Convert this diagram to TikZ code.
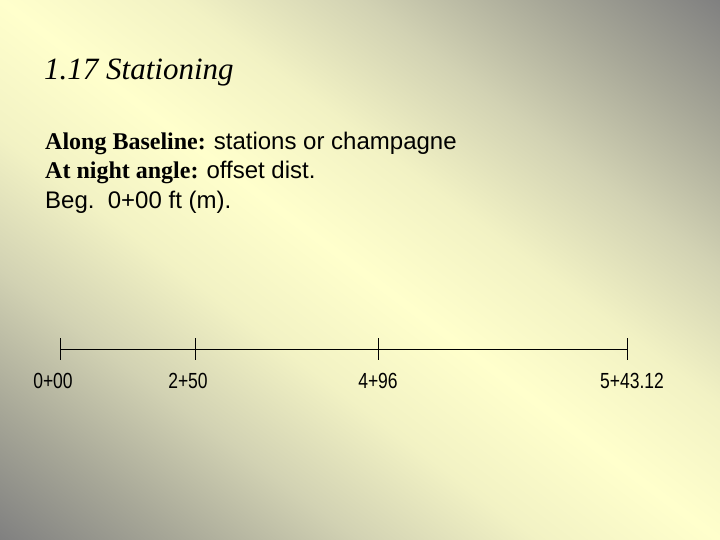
\documentclass[tikz,border=0pt]{standalone}
\usepackage{fontspec}
\setmainfont{Liberation Serif}
\newfontfamily\arialf{Liberation Sans}
\newfontfamily\timesf{Liberation Serif}
\definecolor{bgc0}{RGB}{255,255,204}
\definecolor{bgc1}{RGB}{242,242,196}
\definecolor{bgc2}{RGB}{210,210,179}
\definecolor{bgc3}{RGB}{168,168,152}
\definecolor{bgcg}{RGB}{128,128,128}
\pgfdeclarehorizontalshading{bgdiag}{100bp}{color(0bp)=(bgcg); color(25bp)=(bgcg); color(31.25bp)=(bgc3); color(37.5bp)=(bgc2); color(43.75bp)=(bgc1); color(50bp)=(bgc0); color(56.25bp)=(bgc1); color(62.5bp)=(bgc2); color(68.75bp)=(bgc3); color(75bp)=(bgcg); color(100bp)=(bgcg)}
\newcommand{\talllabel}[1]{\scalebox{1}[1.25]{#1}}
\tikzset{
  titletext/.style={anchor=base west, inner sep=0pt, font=\timesf\itshape\fontsize{31}{36}\selectfont},
  bodytext/.style={anchor=base west, inner sep=0pt, font=\fontsize{24}{28}\selectfont},
  stalabel/.style={anchor=base, inner sep=0pt, font=\arialf\fontsize{17.5}{20}\selectfont},
  baseline/.style={line width=0.9pt, black},
  tickmark/.style={line width=0.9pt, black}
}
\begin{document}
\begin{tikzpicture}[x=1pt,y=-1pt]
\useasboundingbox (0,0) rectangle (720,540);
\begin{scope}
  \clip (0,0) rectangle (720,540);
  \begin{scope}[transform canvas={shift={(360,270)},rotate=53.13}]
    \shade[shading=bgdiag] (-432,-500) rectangle (432,500);
  \end{scope}
\end{scope}

\node[titletext] (title) at (44,80) {1.17 Stationing};
\node[bodytext] (line1) at (45,150) {{\timesf\bfseries Along Baseline:} {\arialf stations or champagne}};
\node[bodytext] (line2) at (45,179) {{\timesf\bfseries At night angle:} {\arialf offset dist.}};
\node[bodytext] (line3) at (45,208) {\arialf Beg.\ \ 0+00 ft (m).};

\coordinate (t0) at (60,349);
\coordinate (t1) at (195,349);
\coordinate (t2) at (378,349);
\coordinate (t3) at (627,349);
\draw[baseline] (t0) -- (t3);
\foreach \t in {t0,t1,t2,t3}{
  \draw[tickmark] ([yshift=11pt]\t) -- ([yshift=-11pt]\t);
}
\node[stalabel] (l0) at (53,388) {\talllabel{0+00}};
\node[stalabel] (l1) at (188,388) {\talllabel{2+50}};
\node[stalabel] (l2) at (378,388) {\talllabel{4+96}};
\node[stalabel] (l3) at (632,388) {\talllabel{5+43.12}};
\end{tikzpicture}
\end{document}
